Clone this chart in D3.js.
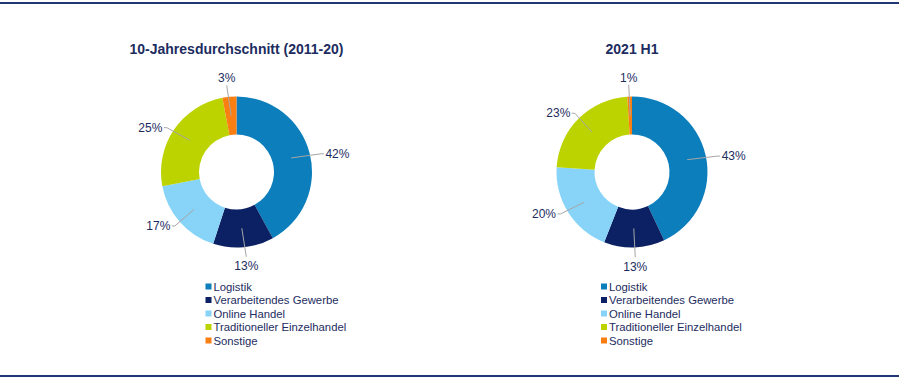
<!DOCTYPE html>
<html><head><meta charset="utf-8">
<script src="https://cdn.jsdelivr.net/npm/d3@7"></script>
<style>body{margin:0;background:#fff}svg{display:block;font-family:"Liberation Sans",Arial,sans-serif}</style>
</head><body><svg id="c" width="899" height="380"></svg>
<script>
const categories = ["Logistik","Verarbeitendes Gewerbe","Online Handel","Traditioneller Einzelhandel","Sonstige"];
const colors = ["#0C7EBC","#0B2163","#88D4F8","#BCD300","#FA7F12"];
const titles = ["10-Jahresdurchschnitt (2011-20)","2021 H1"];
const valuesAvg = [42,13,17,25,3];
const valuesH1 = [43,13,20,23,1];
const series = [valuesAvg, valuesH1];

const svg = d3.select("#c");
const W = 899, H = 380;
const navy = "#1C2C60";
svg.append("line").attr("x1",0).attr("x2",W).attr("y1",3).attr("y2",3).attr("stroke","#1F3874").attr("stroke-width",2);
svg.append("line").attr("x1",0).attr("x2",W).attr("y1",376).attr("y2",376).attr("stroke","#1F3874").attr("stroke-width",2);

const centers = [[236.5,172],[632,172]];
const R = 75.5, Ri = 37.5;
const pie = d3.pie().sort(null).value(d=>d);
const arc = d3.arc().innerRadius(Ri).outerRadius(R);

series.forEach((vals,i)=>{
  const [cx,cy] = centers[i];
  const g = svg.append("g").attr("transform",`translate(${cx},${cy})`);
  svg.append("text").attr("x",cx).attr("y",54).attr("text-anchor","middle")
    .attr("font-weight","bold").attr("font-size",14).attr("fill",navy).text(titles[i]);
  const arcs = pie(vals);
  g.selectAll("path").data(arcs).join("path").attr("d",arc).attr("fill",(d,j)=>colors[j]);
  arcs.forEach((a,j)=>{
    const m = (a.startAngle+a.endAngle)/2;
    const sx = Math.sin(m), sy = -Math.cos(m);
    const rm = (R+Ri)/2;
    const px = sx*rm, py = sy*rm;
    const lx = sx*R*1.38, ly = sy*R*(1.25-0.3*sx*sx);
    const txt = vals[j]+"%";
    const hw = 11.5;
    let ex, ey;
    if (Math.abs(lx) > 30) { ex = lx + (lx>0 ? -(hw+5) : (hw+5)); ey = ly; }
    else { ex = lx; ey = ly + (ly>0 ? -9 : 7); }
    g.append("path").attr("d",`M${px},${py}L${ex},${ey}${Math.abs(lx)>30?`L${ex+(lx>0?3:-3)},${ey}`:""}`)
      .attr("fill","none").attr("stroke","#A6A6A6").attr("stroke-width",1);
    g.append("text").attr("x",lx).attr("y",ly).attr("dy","0.35em").attr("text-anchor","middle")
      .attr("font-size",12).attr("fill",navy).text(txt);
  });
  const lg = svg.append("g").attr("transform",`translate(${cx-31},287)`);
  categories.forEach((c,j)=>{
    const y = j*13.5;
    lg.append("rect").attr("x",0).attr("y",y-3.5).attr("width",6).attr("height",6).attr("fill",colors[j]);
    lg.append("text").attr("x",8).attr("y",y).attr("dy","0.35em").attr("font-size",11.3).attr("fill",navy).text(c);
  });
});
</script></body></html>
